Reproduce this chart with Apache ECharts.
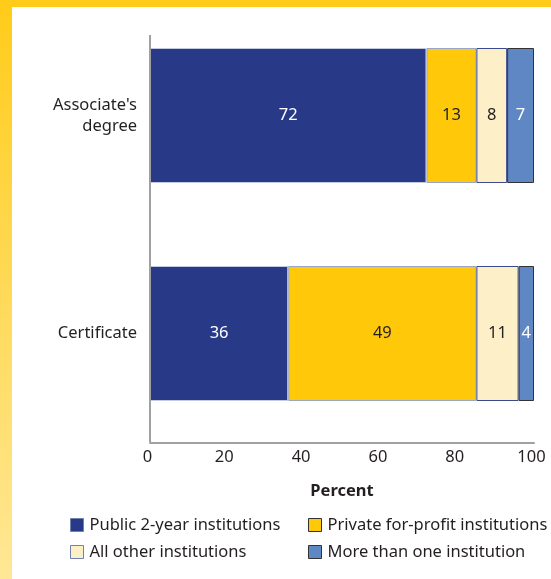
<!DOCTYPE html>
<html><head><meta charset="utf-8">
<script src="https://cdn.jsdelivr.net/npm/echarts@6/dist/echarts.min.js"></script>
<style>html,body{margin:0;padding:0;background:#fff}#c{width:551px;height:579px}</style>
</head><body><div id="c"></div>
<script>
const categories = ["Associate's\ndegree", "Certificate"];
const seriesNames = ["Public 2-year institutions", "Private for-profit institutions", "All other institutions", "More than one institution"];
const publicVals = [72, 36];
const privateVals = [13, 49];
const otherVals = [8, 11];
const multiVals = [7, 4];
const xTicks = [0, 20, 40, 60, 80, 100];

const colors = ['#283A87', '#FFC90A', '#FDEFC8', '#5F87C3'];
const borders = ['#C3CBE0', '#9AA6C8', '#3B4A8F', '#333333'];
const labelColors = ['#ffffff', '#231F20', '#231F20', '#ffffff'];
const FONT = 'Noto Sans';
const FS = 16.5;
const allVals = [publicVals, privateVals, otherVals, multiVals];

const chart = echarts.init(document.getElementById('c'));
const series = seriesNames.map((n, i) => ({
  name: n, type: 'bar', stack: 'a', barWidth: 135,
  data: allVals[i],
  itemStyle: { color: colors[i], borderColor: borders[i], borderWidth: 1 },
  label: { show: true, position: 'inside', color: labelColors[i], fontFamily: FONT, fontSize: FS }
}));
const legendCommon = {
  top: 514, orient: 'vertical', itemWidth: 13, itemHeight: 13, itemGap: 5, padding: 0, icon: 'rect',
  textStyle: { fontFamily: FONT, fontSize: FS, color: '#231F20', height: 22, lineHeight: 22, padding: [0, 0, 0, 1] }
};
chart.setOption({
  animation: false,
  textStyle: { fontFamily: FONT },
  graphic: [
    { type: 'rect', shape: { x: 0, y: 0, width: 551, height: 7 }, style: { fill: '#FFCC1A' }, z: 10 },
    { type: 'rect', shape: { x: 0, y: 0, width: 12, height: 579 },
      style: { fill: new echarts.graphic.LinearGradient(0, 0, 0, 1, [{ offset: 0, color: '#FFCC1A' }, { offset: 1, color: '#FFE795' }]) }, z: 10 },
    { type: 'line', shape: { x1: 150, y1: 35, x2: 150, y2: 442 }, style: { stroke: '#A0A0A0', lineWidth: 2 }, z: 5 }
  ],
  legend: [
    Object.assign({}, legendCommon, { data: [seriesNames[0], seriesNames[2]], left: 70,
      itemStyle: { borderColor: '#7080B0', borderWidth: 1 } }),
    Object.assign({}, legendCommon, { data: [seriesNames[1], seriesNames[3]], left: 308,
      itemStyle: { borderColor: '#333', borderWidth: 1 } })
  ],
  grid: { left: 150, right: 17, top: 6.5, bottom: 136.5 },
  xAxis: {
    type: 'value', min: 0, max: 100, interval: 20,
    name: 'Percent', nameLocation: 'middle', nameGap: 40,
    nameTextStyle: { fontFamily: FONT, fontSize: FS, fontWeight: 'bold', color: '#231F20' },
    axisLine: { show: true, lineStyle: { color: '#A0A0A0', width: 2 } },
    axisTick: { show: false }, splitLine: { show: false },
    axisLabel: { fontFamily: FONT, fontSize: FS, color: '#231F20', margin: 6, padding: [0, 5, 0, 0],
      formatter: v => xTicks.includes(v) ? String(v) : '' }
  },
  yAxis: {
    type: 'category', data: categories, inverse: true,
    axisLine: { show: false }, axisTick: { show: false },
    axisLabel: { fontFamily: FONT, fontSize: FS, color: '#231F20', margin: 13, align: 'right', lineHeight: 21 }
  },
  series: series
});
</script></body></html>
